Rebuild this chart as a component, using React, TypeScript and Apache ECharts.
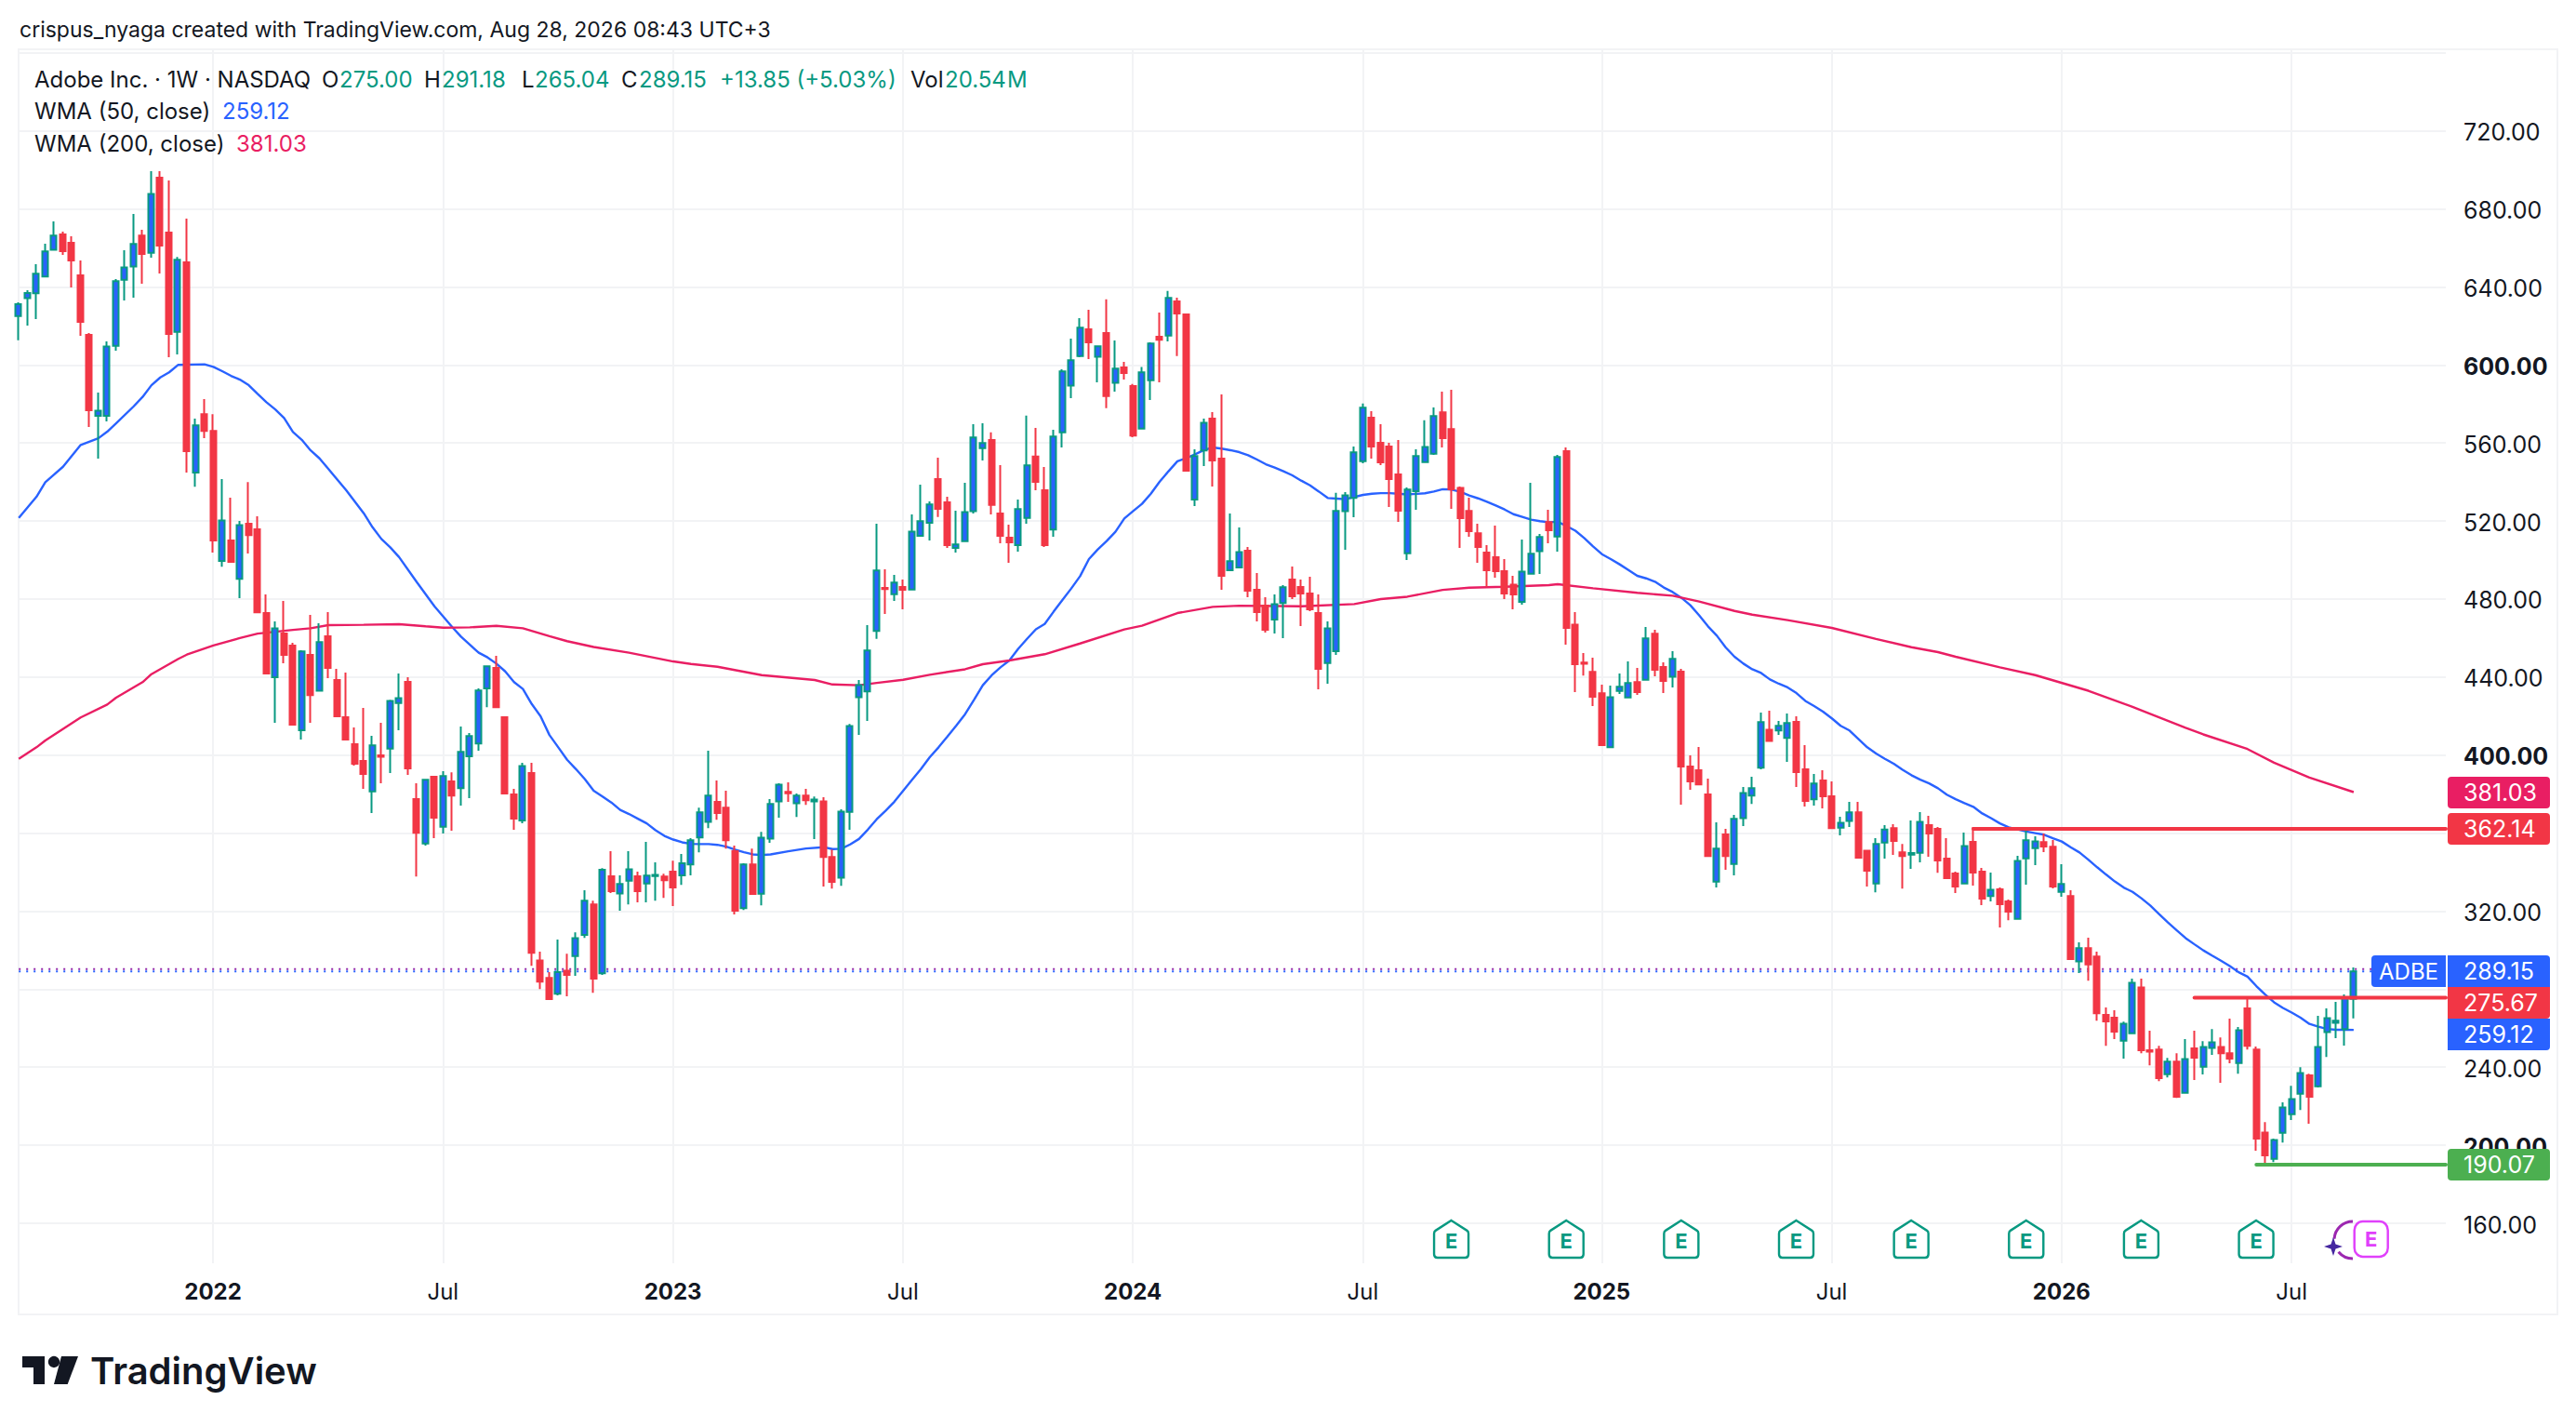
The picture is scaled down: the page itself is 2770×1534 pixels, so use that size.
import React, { useEffect, useRef } from "react";
import * as echarts from "echarts";

const FONT = "Inter, 'Noto Sans', sans-serif";
const INK = "#131722";
const UP = "#089981";
const UP_FILL = "#2962ff";
const DOWN = "#f23645";
const BLUE = "#2962ff";
const PINK = "#e91e63";
const GREEN = "#4caf50";
const PURPLE = "#9c27b0";
const GRID = "#f2f3f5";

// rows: [open, close, low, high]
const candles2021 = [
  [625.1,631.1,612.7,632.1],[634.2,636.9,620.2,638.3],[636.7,646.7,623.5,651.6],[645.3,658.2,645.3,662.1],[659,666.3,659,673.6],
  [666.9,658.3,656.4,668.3],[662.6,653.6,639.7,666],[645.9,622.1,614.9,653.6],[615.4,576.8,568.2,616.4],[573.9,576.6,552,585.8],
  [573.9,609.5,571,612.1],[609.8,642.9,607.3,644],[643.7,650,633,658.8],[650.4,662,634.5,677.4],[666.3,656.9,641.6,669.3],
  [657.5,687.7,655,699.3],[696,661.2,646.9,699.3],[667.9,615.9,604,694.6],[617,653.9,605.4,655.3],[652.6,555.8,544.8,675],
  [544.8,569,537.6,572.5],[574.8,566.2,562.5,582.5],
];
const candles2022 = [
  [566.2,510,503.8,574.8],[499.5,520.3,496.6,541.5],[510,499,499,532],[490.4,517.9,480.4,520],[518.6,512.8,503.3,540],
  [515.7,473.2,472.8,522.4],[472.8,441.8,441.8,482.4],[439.9,465,416.5,468.5],[462.3,451.4,447.1,479],[456.1,415.6,415.1,457.6],
  [412.7,453.1,408,453.8],[451.4,430.8,416.5,471.9],[433,457.9,433,467.6],[460.9,444.7,439.4,473.3],[438.5,419.9,419.9,444.2],
  [419.4,408,408,442.3],[405.6,395.6,394.6,414.2],[397,390.3,382.7,424.2],[381.4,405,370.3,409.9],[399.9,399.2,385.5,416.5],
  [403.3,427.8,390.8,428.3],[426.7,429.2,412.7,441.8],[437.5,393.2,389.8,439.9],[377.4,360.2,337.8,385.5],[354.7,387.3,353.6,387.8],
  [388.9,367.9,357.4,389.4],[363.3,389.2,359.8,391.7],[386.5,379.3,361.2,391.2],[383.1,401.6,374.1,414.6],[399.4,409.7,377.9,411.3],
  [406,433.1,402.2,434.2],[434.2,445.5,424.6,445.5],[444.7,424.6,424.6,450.9],[419.4,380.3,380.3,419.4],[379.8,367.4,361.7,382.7],
  [366.5,394.4,365,396],[390.8,298.7,292,396],[294.7,283.9,280.1,299.2],[285.8,274.9,274.9,288.7],[277.7,288.7,276.8,305.4],
  [289.5,287.3,276.3,298.2],[297,306.2,286.8,309.2],[307.8,325.3,306.3,330.7],[323.5,285.4,278.2,325.4],[288.2,341.2,287.3,342.1],
  [337.9,330.2,329.3,350.7],[329,333.9,320.2,338.3],[335.6,341.5,323.5,350.7],[337.9,330.2,324.5,340.2],[334.2,338.2,324.5,355.5],
  [338,338.6,325.4,345],[337.7,335.9,326.8,339.2],
];
const candles2023 = [
  [340.2,332.1,322.6,345.9],[338.3,344.5,333.5,349.3],[344,356.3,338.3,357.4],[357.8,370.6,350.2,373.1],[365.8,379.2,362.6,402.2],
  [376,370.3,366.9,387],[373.1,356.4,352.1,381.7],[350.7,320.2,318.3,353.6],[321.6,344,320.6,344.5],[344,328.8,328.3,352.1],
  [328.9,357.7,323,360.7],[357.2,374.9,355,377.4],[376.3,384.9,367.9,385.5],[381.1,380.4,376,386],[375.3,379.2,368.3,380.3],
  [379.2,376.9,374.5,382.7],[376.3,377.2,356.9,378.8],[376.3,347.8,332.6,378.4],[347.8,335,331.6,351.6],[337.2,371,333,372.2],
  [370.9,414.9,361.7,416],[429.7,435.9,410.3,438.5],[432.6,453.6,417.5,466.6],[463.6,494.6,459.6,518.6],[485.7,485.1,472.3,495.2],
  [482.5,488.4,479,492.4],[486.2,484.7,474.7,490],[484.9,514.6,484.9,523.4],[512.4,519.9,511.9,538.6],[519.1,528.5,510,530.1],
  [541.5,526.2,522,552.5],[529.6,507.6,506.2,532.4],[506.2,508,503.8,525.3],[509.7,524.6,509.7,539.6],[525,562.8,523.9,569.6],
  [557.4,560,551,570.1],[561.5,528.2,523.4,565.4],[523.9,512.4,508.6,548.7],[511.5,509.1,498.6,518.1],[507.6,526.1,504.3,531],
  [521.6,548.5,518.6,574],[553,540.1,535.8,567.7],[535.8,507.6,506.7,547.7],[515.6,563.3,511.9,566.8],[565.5,596.7,557.7,597.8],
  [589.4,602.4,583,613.5],[604.6,619.1,604,624],[618.3,611.6,603,628.3],[604.2,609.6,591.1,609.6],[616.4,584,577.8,633.6],
  [590.8,598.1,586.3,612.6],[598.7,595.9,592.5,601.6],
];
const candles2024 = [
  [589.2,563.8,563,590.2],[567.4,596.2,567.4,599],[592.2,611,582,611.6],[614.5,612.9,591.1,626.9],[615.1,634.4,612.1,637.9],
  [632.6,626.4,604.5,634.5],[625.9,545.8,545.8,625.9],[531,553.3,527.7,556.8],[556.1,570.4,548.2,572.5],[572.5,551,537.7,575.8],
  [552,491.9,484.7,584.9],[494.8,499.4,494.8,523.9],[496.2,504.1,496.2,516.7],[504.8,484.3,480.9,506.7],[484.7,473.3,468.5,493.3],
  [476.6,464.2,462.8,480.9],[469.5,477.4,462.3,482.4],[477.9,486,460,487.1],[490,481.4,480,496.7],[486.2,482.8,466.1,490],
  [482.8,474.7,473.8,491.4],[472.8,444.2,433.7,482.4],[447.2,465,436.6,468.5],[453.3,525.1,451.4,534.4],[525,533.2,505.2,534.8],
  [531.8,555.2,521.9,558.2],[550.7,578.1,549.6,580.2],[573,558.2,552,576.3],[560.1,550.1,548.7,569.6],[558.2,541.5,527.2,560.1],
  [543.9,525.3,519.6,561.5],[503.5,536.1,500,537.2],[535.3,553.3,525.8,556.8],[550.2,558,550.2,571.6],[554.5,573.8,553.9,578.2],
  [575.7,562.5,557.7,586.3],[567.1,536.3,526.2,587.3],[537,521.5,506.2,537.7],[525.1,514.8,511.9,531.9],[513.7,506.7,498.6,518.6],
  [503.8,494.8,486.2,507.6],[501.4,494.3,490.9,517.7],[494.3,482.8,480,500.5],[487.4,482.4,474.7,491.9],[478.5,494.1,477.1,510.5],
  [493,503.2,493,539.6],[504.5,511.8,492.8,513.4],[519.4,515.3,508.6,525.8],[512.1,552.8,504.3,553.9],[555.8,465.2,456.6,557.7],
  [466.9,446.6,432.3,473.3],[447.4,446.8,440.8,452.3],[442.7,429.9,425.1,449.9],
];
const candles2025 = [
  [431.7,405.1,405.1,436.1],[404,429.7,404,435.6],[432.9,435,431.3,441.8],[429.6,436.9,429.6,448],[437.4,432.3,430.9,444.7],
  [438.6,459.8,438.6,465.7],[462.2,443.7,440.4,464.2],[445.2,438,431.8,447.6],[440.1,449.3,434.7,453.3],[442.8,394.1,374.6,444.2],
  [394.1,386.5,382.2,399.9],[392.2,385,384.6,404.1],[379.8,348.3,348.3,387.9],[335.1,352,332.1,365.5],[359.3,348.3,341.2,362.2],
  [344.2,367.3,338.3,369.3],[367.7,380.6,363.6,383.6],[379.2,383,375,388.9],[393.6,416.9,392.7,421.8],[413,407.2,407.2,422.8],
  [412.6,415,410.3,417.5],[408.8,416.4,396.5,421.3],[417,391.3,383.6,419.9],[392.7,376.5,373.6,405.1],[377.3,385.4,374.1,390.3],
  [387,378.9,372.7,392.2],[378.9,362.6,362.6,386.5],[362.8,365.3,358.8,368.4],[366.2,370.6,363.1,376],[370.6,347.4,347.4,376],
  [351,340.7,332.6,351],[334.2,354.4,329.7,357.4],[355.2,361.8,346.9,364.1],[362.5,356,348.8,364.6],[350.2,348.3,331.6,354.5],
  [349,349.8,341.7,366.5],[349.9,365.8,345,370.8],[364.1,359.8,347.9,368.9],[362.2,346,339.7,363.1],[346.9,336.9,336.9,357.4],
  [339.3,332.6,329.3,340.2],[334.2,353.4,334.2,360.3],[355.5,339.8,333.1,363],[340.2,326.4,323.1,342.2],[327.7,331,325,339.8],
  [331.2,323.6,311.6,332.1],[325,319.7,315.4,325.9],[316.1,345.8,316.1,348.4],[347.1,356.3,333.6,362.7],[352.3,355.8,343.6,358.4],
  [355.4,353.1,350.3,359.8],[353,332.6,331.7,356.5],
];
const candles2026 = [
  [329.9,333.9,327.4,344.1],[327.7,295.4,295.4,330.7],[294.3,301,288.3,304],[301,292.7,284.4,306.4],[296.7,267.7,263.9,299.2],
  [266.8,263.5,251,270.6],[265.4,258.2,254.4,269.2],[253.6,262.3,244.4,263.4],[257.4,283.3,257.4,285.4],[280.9,248.7,247.2,285.4],
  [248.7,248,241,258.7],[249.1,234.4,232.9,251],[236.4,242.8,234.8,244.8],[242.9,224.8,224.3,247.2],[226.9,244.2,226.9,254.4],
  [249.6,244.9,233.4,258.7],[240.2,250.4,236.3,253.4],[249.9,252.8,246.3,259.6],[250.4,247.2,232,255.3],[247.1,244.4,242,264.9],
  [242.1,259,236.7,260.6],[270.1,251,249.1,274.9],[249.1,203.4,197.2,250.6],[206.5,194.8,190.07,211.9],[193,202.7,191.4,203.4],
  [206.4,219.4,201.4,222],[215.9,223.7,212.9,230.5],[226.4,237,218.1,240],[235.8,224.8,211,236.7],[230.2,250.4,229.6,266.3],
  [258,265.2,245.3,270.1],[262.8,263.8,254.9,273.5],[259.6,275.4,251.1,277.3],[275,289.15,265.04,291.18],
];
const allCandles = [...candles2021, ...candles2022, ...candles2023, ...candles2024, ...candles2025, ...candles2026];

// [bar index, value]
const wma50Early = [
  [0,521.6],[2,532.4],[3,539.9],[5,547.8],[7,559],[9,562.4],[10,565.8],[11,570],[13,578.8],[14,583.6],[15,589.6],[16,593.6],[17,596.2],[18,600],[21,600.3],
  [22,599],[23,596.8],[24,594.4],[25,592.5],[26,589.6],[27,585.2],[28,580.9],[29,577.2],[30,572.8],[31,565.6],[32,561.6],[33,556.2],[34,552.1],[35,546.7],
  [37,535.9],[39,524],[40,516.8],[41,510.8],[42,506.5],[43,501.5],[45,488.7],[47,476.3],[49,465.7],[50,460.7],[52,452.5],[53,450.1],[54,446.9],[55,442.9],
  [56,437.4],[57,433.9],[58,426.2],[59,419.9],[60,410.3],[61,404],[62,397.6],[63,392.8],[64,387.7],[65,381.7],[66,378.8],[67,375.7],[68,371.9],[69,369.8],
  [70,367.4],[71,365],[72,361.5],[73,358.6],[74,356.7],[75,355.3],[76,354.5],[77,354.4],[78,354.4],[79,354],[80,353.1],[81,351.5],[82,350.2],[83,349.1],
  [84,348.8],[85,349.1],[87,350.7],[89,352.1],[91,352.8],[92,351.8],[93,352],[94,354.2],[95,357],[96,361.8],[97,367.1],[98,371.4],[99,376.1],[100,381.7],
  [101,387.3],[102,392.8],[103,398.9],[104,404],[105,409.5],
];
const wma50Middle = [
  [106,415.1],[107,421],[108,428.3],[109,435.8],[110,440.9],[111,445],[112,448.5],[113,454.5],[114,459.6],[115,464.5],[116,467.2],[117,473.5],[118,479.5],
  [119,485.4],[120,491.7],[121,500.5],[122,505.4],[123,509.7],[124,514.5],[125,521.3],[126,525.1],[127,528.8],[128,534],[129,540.2],[130,545.5],[131,550.6],
  [132,552.2],[133,554.2],[134,556.3],[135,557.7],[136,557.1],[137,556.3],[138,555.3],[139,553.7],[140,551.5],[141,549.1],[142,547.4],[143,545.5],[144,543.4],
  [145,540.7],[146,538.3],[147,535.1],[148,531.8],[149,531.5],[150,531.2],[151,532.3],[152,533.4],[153,534],[154,534.3],[155,534.3],[156,534],[157,533.6],
  [158,533.9],[159,534.2],[160,535.1],[161,536.3],[162,536.1],[163,535],[164,533.1],[165,531.6],[166,529.9],[167,528],[168,525.9],[169,523.5],[170,522.1],
  [171,520.7],[172,519.9],[173,519.4],[174,519.6],
];
const wma50Late = [
  [175,517.4],[176,515],[177,511.3],[178,507],[179,503],[180,500.5],[181,497.8],[182,494.9],[183,491.9],[184,490.6],[185,488.9],[186,485.9],[187,483.6],
  [188,480.6],[189,476.8],[190,471.6],[191,466],[192,461.2],[193,455.2],[194,450.4],[195,446.9],[196,444],[197,442.1],[198,438.8],[199,436.6],[200,434.7],
  [201,431.8],[202,427.8],[203,425.1],[204,422.3],[205,418.8],[206,415],[207,412.6],[208,408.3],[209,404],[210,400.8],[211,398.1],[212,395.6],[213,392.5],
  [214,389.7],[215,387.4],[216,385.5],[217,383],[218,379.7],[219,377.4],[220,375.4],[221,373.5],[222,370.1],[223,367.7],[224,365],[225,363],[226,361.9],
  [227,360.8],[228,360],[229,359.2],[230,357.4],[231,355.7],[232,352.8],[233,350.1],[234,346.4],[235,342.5],[236,338.8],[237,335.2],[238,332.1],[239,329.9],
  [240,326.6],[241,322.9],[242,318.5],[243,314.2],[244,310.2],[245,306.2],[246,303],[247,299.9],[248,297.2],[249,294.6],[250,291.9],[251,288.7],[252,286.4],
  [253,281.6],[254,277.3],[255,273.3],[256,270.4],[257,268],[258,265.4],[259,262.2],[260,260.8],[261,259.6],[262,259.2],[263,259.2],[264,259.12],
];
const wma200Points = [
  [0,398.1],[2,404],[3,407.5],[7,419.3],[10,425.9],[11,429.4],[14,437.4],[15,441.5],[18,449.2],[19,451.5],[22,456.2],[25,460],[27,462.3],[31,464.2],[33,465],[35,466.6],[39,466.8],
  [43,467.1],[46,466],[48,465.3],[51,465.5],[54,466.3],[57,465],[60,461],[62,458.4],[65,455.4],[69,452.5],[74,448],[76,446.7],[79,445.3],[84,441],[90,438.5],
  [92,436.2],[95,435.8],[97,437],[100,438.6],[103,441.2],[107,444],[109,446.6],[112,448.5],[116,451.7],[120,457.2],[125,464.4],[127,466.3],[131,472.8],
  [135,476],[138,476.6],[145,476.3],[151,477.4],[154,480],[157,481.2],[161,484.7],[164,485.8],[168,486.3],[173,487.1],[174,487.6],[178,485.5],[183,483.2],
  [187,481.7],[190,478.7],[194,473.9],[196,472],[200,469.2],[205,465.2],[210,459.5],[214,455.3],[217,452.8],[219,450.4],[224,445],[228,441],[234,433],
  [239,424.7],[245,414],[247,410.6],[252,403.1],[255,396.1],[259,388.5],[264,381.03],
];

const priceTicks = [160,200,240,280,320,360,400,440,480,520,560,600,640,680,720,760];
const labelledPrices = [160,200,240,320,400,440,480,520,560,600,640,680,720];
const boldPrices = [200,400,600];
const xTickLabels: Record<number,string> = {22:"2022",48:"Jul",74:"2023",100:"Jul",126:"2024",152:"Jul",179:"2025",205:"Jul",231:"2026",257:"Jul"};
const earningsBars = [162,175,188,201,214,227,240,253];
const upcomingEarningsBar = 266;
const resistanceRay = [221,362.14];
const recentHighRay = [246,275.67];
const supportRay = [253,190.07];
const lastClose = 289.15;
const extendedPrice = 290.3;

const categories = Array.from({length: 275}, (_, i) => new Date(Date.UTC(2021,7,2+i*7)).toISOString().slice(0,10));

const Y_MIN = 139.5, Y_MAX = 761.8, X_RIGHT = 274.42;
const PLOT_TOP = 53, PLOT_H = 1305;

const legendTexts: [string,number,number,string][] = [
  ["Adobe Inc. · 1W · NASDAQ",37,85,INK],["O",346,85,INK],["275.00",365,85,UP],["H",456,85,INK],["291.18",475,85,UP],["L",561,85,INK],["265.04",575,85,UP],
  ["C",668,85,INK],["289.15",687,85,UP],["+13.85 (+5.03%)",774,85,UP],["Vol",979,85,INK],["20.54",1016,85,UP],["M",1083,85,UP],
  ["WMA (50, close)",37,119,INK],["259.12",239,119,BLUE],
  ["WMA (200, close)",37,154,INK],["381.03",254,154,PINK],
];
const priceTags: [string,number,string,any][] = [
  ["381.03",835,PINK,4],["362.14",874,DOWN,4],["289.15",1027,BLUE,[0,4,0,0]],["275.67",1061,DOWN,[0,0,4,0]],["259.12",1095,BLUE,[0,0,4,0]],["190.07",1235,GREEN,4],
];

const HOUSE = "path://M18.5 1 L35 11.5 Q36.5 12.5 36.5 14.5 V36 Q36.5 39.5 33 39.5 H4 Q0.5 39.5 0.5 36 V14.5 Q0.5 12.5 2 11.5 Z";

const txt = (text:string,x:number,y:number,fill:string,extra:any={}) => ({
  type:"text",x,y,z:100,silent:true,
  style:{text,fill,font:`400 24px ${FONT}`,verticalAlign:"middle",...extra},
});

export default function App(){
  const ref = useRef<HTMLDivElement>(null);
  useEffect(()=>{
    document.body.style.margin="0";
    const chart = echarts.init(ref.current!,null,{renderer:"svg"});
    const graphic:any[] = [
      {type:"rect",z:-1,silent:true,shape:{x:20,y:53,width:2730,height:1360},style:{fill:"none",stroke:GRID,lineWidth:2}},
      txt("crispus_nyaga created with TradingView.com, Aug 28, 2026 08:43 UTC+3",21,32,INK,{font:`400 23px ${FONT}`}),
      ...legendTexts.map(([t,x,y,c])=>txt(t,x,y,c)),
      ...priceTags.flatMap(([t,y,c,r])=>[
        {type:"rect",z:99,silent:true,shape:{x:2632,y,width:110,height:34,r},style:{fill:c}},
        txt(t,2649,y+17,"#ffffff",{font:`400 25px ${FONT}`}),
      ]),
      {type:"rect",z:99,silent:true,shape:{x:2550,y:1027,width:80,height:34,r:[4,0,0,4]},style:{fill:BLUE}},
      txt("ADBE",2590,1044,"#ffffff",{align:"center"}),
      // earnings-moon decoration
      {type:"arc",z:4,silent:true,shape:{cx:2530,cy:1333,r:20,startAngle:Math.PI*1.02,endAngle:Math.PI*1.5,clockwise:true},style:{stroke:PURPLE,lineWidth:3,fill:"none"}},
      {type:"arc",z:4,silent:true,shape:{cx:2530,cy:1333,r:20,startAngle:Math.PI*0.5,endAngle:Math.PI*0.78,clockwise:true},style:{stroke:PURPLE,lineWidth:3,fill:"none"}},
      {type:"polygon",z:6,silent:true,shape:{points:[[2509,1330],[2511.5,1337.5],[2519,1340],[2511.5,1342.5],[2509,1350],[2506.5,1342.5],[2499,1340],[2506.5,1337.5]]},style:{fill:"#4527a0"}},
      // logo
      {type:"polygon",z:100,silent:true,shape:{points:[[24,1458],[48,1458],[48,1488],[36,1488],[36,1470],[24,1470]]},style:{fill:INK}},
      {type:"circle",z:100,silent:true,shape:{cx:58,cy:1464,r:6.2},style:{fill:INK}},
      {type:"polygon",z:100,silent:true,shape:{points:[[66,1458],[84,1458],[72.7,1488],[58,1488]]},style:{fill:INK}},
      txt("TradingView",97,1473,INK,{font:`600 40px ${FONT}`}),
    ];
    chart.setOption({
      animation:false,
      backgroundColor:"#ffffff",
      grid:[
        {left:20,top:PLOT_TOP,width:2610,height:PLOT_H,containLabel:false},
        {left:19.8,top:PLOT_TOP,width:2606.0,height:PLOT_H,containLabel:false},
      ],
      xAxis:[
        {type:"value",gridIndex:0,min:-0.021,max:X_RIGHT,show:false,splitLine:{show:false}},
        {type:"category",gridIndex:1,data:categories,boundaryGap:false,
          axisLine:{show:false},axisTick:{show:false},
          splitLine:{show:true,interval:(i:number)=>xTickLabels[i]!==undefined,lineStyle:{color:GRID,width:2}},
          axisLabel:{margin:18,color:INK,fontFamily:FONT,fontSize:24,showMinLabel:true,hideOverlap:false,
            interval:(i:number)=>xTickLabels[i]!==undefined,
            formatter:(_:string,i:number)=>{const l=xTickLabels[i]; if(!l) return ""; return l==="Jul"?`{n|${l}}`:`{b|${l}}`;},
            rich:{n:{fontFamily:FONT,fontSize:24,color:INK},b:{fontFamily:FONT,fontSize:24,fontWeight:700,color:INK}}}},
      ],
      yAxis:[
        {type:"value",gridIndex:0,position:"right",min:Y_MIN,max:Y_MAX,
          axisLine:{show:false},
          axisTick:{show:false,customValues:priceTicks},
          splitLine:{show:true,lineStyle:{color:GRID,width:2}},
          axisLabel:{show:true,customValues:labelledPrices,margin:19,align:"left",showMinLabel:true,showMaxLabel:true,hideOverlap:false,
            fontFamily:FONT,fontSize:25,color:INK,
            formatter:(v:number)=>boldPrices.includes(v)?`{b|${v.toFixed(2)}}`:`{n|${v.toFixed(2)}}`,
            rich:{n:{fontFamily:FONT,fontSize:25,color:INK,padding:[3,0,0,0]},b:{fontFamily:FONT,fontSize:25,fontWeight:700,color:INK,padding:[3,0,0,0]}}}},
        {type:"value",gridIndex:1,min:Y_MIN,max:Y_MAX,show:false,splitLine:{show:false}},
      ],
      series:[
        {type:"line",name:"extended",xAxisIndex:0,yAxisIndex:0,z:1,symbol:"none",data:[[0,extendedPrice],[X_RIGHT,extendedPrice]],lineStyle:{color:"#8e24aa",width:2,type:[2,6]}},
        {type:"line",name:"last",xAxisIndex:0,yAxisIndex:0,z:1,symbol:"none",data:[[0,lastClose],[X_RIGHT,lastClose]],lineStyle:{color:BLUE,width:2,type:[2,6]}},
        {type:"line",name:"WMA 50",xAxisIndex:0,yAxisIndex:0,z:2,symbol:"none",data:[...wma50Early,...wma50Middle,...wma50Late],lineStyle:{color:BLUE,width:2.4}},
        {type:"line",name:"WMA 200",xAxisIndex:0,yAxisIndex:0,z:2,symbol:"none",data:wma200Points,lineStyle:{color:PINK,width:2.4}},
        {type:"candlestick",name:"ADBE",xAxisIndex:1,yAxisIndex:1,z:3,barWidth:6.5,data:allCandles,
          itemStyle:{color:UP_FILL,color0:DOWN,borderColor:UP,borderColor0:DOWN,borderWidth:2}},
        {type:"line",name:"r1",xAxisIndex:0,yAxisIndex:0,z:4,symbol:"none",data:[resistanceRay,[X_RIGHT,resistanceRay[1]]],lineStyle:{color:DOWN,width:4,cap:"round"}},
        {type:"line",name:"r2",xAxisIndex:0,yAxisIndex:0,z:4,symbol:"none",data:[recentHighRay,[X_RIGHT,recentHighRay[1]]],lineStyle:{color:DOWN,width:4,cap:"round"}},
        {type:"line",name:"s1",xAxisIndex:0,yAxisIndex:0,z:4,symbol:"none",data:[supportRay,[X_RIGHT,supportRay[1]]],lineStyle:{color:GREEN,width:4,cap:"round"}},
        {type:"scatter",name:"Earnings",xAxisIndex:1,yAxisIndex:1,z:5,symbol:HOUSE,symbolSize:[37,40],
          data:earningsBars.map(i=>[i,151.9]),
          itemStyle:{color:"#ffffff",borderColor:UP,borderWidth:2.5,opacity:1},
          label:{show:true,position:"inside",formatter:"E",fontFamily:FONT,fontSize:22,fontWeight:700,color:UP,offset:[0,2]}},
        {type:"scatter",name:"Upcoming earnings",xAxisIndex:1,yAxisIndex:1,z:5,symbol:"roundRect",symbolSize:[36,38],
          data:[[upcomingEarningsBar,151.9]],
          itemStyle:{color:"#ffffff",borderColor:"#e040fb",borderWidth:2.5,opacity:1},
          label:{show:true,position:"inside",formatter:"E",fontFamily:FONT,fontSize:22,fontWeight:700,color:"#e040fb"}},
      ],
      graphic,
    });
    return ()=>chart.dispose();
  },[]);
  return <div ref={ref} style={{width:2770,height:1534,display:"block",background:"#fff"}}/>;
}
